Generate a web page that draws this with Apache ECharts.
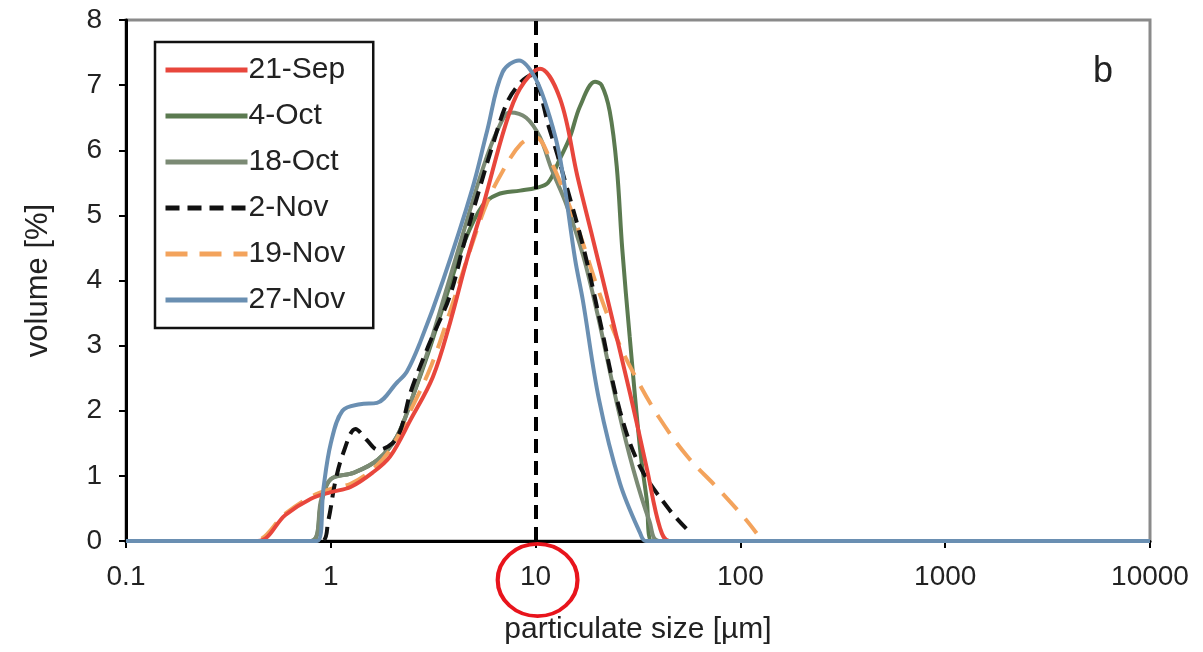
<!DOCTYPE html>
<html>
<head>
<meta charset="utf-8">
<title>particulate size</title>
<script src="https://cdn.jsdelivr.net/npm/echarts@6/dist/echarts.min.js"></script>
<style>
  html, body { margin: 0; padding: 0; background: #fff; }
  #main { width: 1203px; height: 652px; }
</style>
</head>
<body>
<div id="main"></div>
<script>
// particle size distributions (size in µm, volume in %)
var sep21Size = [0.1, 0.44, 0.6, 0.8, 1.0, 1.25, 1.6, 1.95, 2.45, 3.15, 3.82, 4.6, 5.6, 7.1, 8.4, 10.5, 13.2, 16, 19, 22.5, 29, 35, 40.5, 45, 10000];
var sep21Vol  = [0, 0, 0.4, 0.65, 0.75, 0.83, 1.05, 1.3, 1.86, 2.52, 3.35, 4.3, 5.2, 6.37, 6.95, 7.25, 6.78, 5.6, 4.65, 3.7, 2.25, 1.1, 0.2, 0, 0];

var oct4Size = [0.1, 0.8, 0.9, 1.0, 1.3, 1.7, 2.1, 2.5, 3.0, 3.7, 4.5, 5.5, 6.5, 8.4, 10, 11.5, 13.1, 14.7, 16.5, 19.5, 21, 23, 24.9, 26.5, 28.8, 32.4, 34.9, 37, 10000];
var oct4Vol  = [0, 0, 0.6, 0.95, 1.05, 1.25, 1.6, 2.2, 2.9, 3.8, 4.6, 5.15, 5.32, 5.38, 5.42, 5.5, 5.86, 6.2, 6.68, 7.05, 7.0, 6.6, 5.75, 4.48, 3.14, 1.4, 0.63, 0, 0];

var oct18Size = [0.1, 0.8, 0.9, 1.0, 1.3, 1.7, 2.1, 2.5, 3.0, 3.7, 4.5, 5.5, 6.5, 7.5, 9, 10.5, 12, 14, 17, 20, 25, 30, 36, 40, 10000];
var oct18Vol  = [0, 0, 0.65, 0.95, 1.05, 1.25, 1.6, 2.2, 2.95, 3.9, 4.8, 5.7, 6.3, 6.58, 6.5, 6.2, 5.7, 5.2, 4.4, 3.5, 2.1, 1.1, 0.3, 0, 0];

var nov2Size = [0.1, 0.9, 0.97, 1.05, 1.15, 1.32, 1.5, 1.7, 2.0, 2.2, 2.45, 3.0, 3.8, 4.5, 5.2, 6.2, 7.3, 8.5, 9.5, 11.7, 14, 17.2, 20.4, 25.8, 32.4, 45, 56];
var nov2Vol  = [0, 0, 0.3, 0.9, 1.35, 1.72, 1.55, 1.4, 1.5, 1.72, 2.28, 3.0, 3.75, 4.6, 5.3, 6.1, 6.75, 7.05, 7.15, 6.32, 5.5, 4.48, 3.45, 2.0, 1.14, 0.48, 0.15];

var nov19Size = [0.1, 0.42, 0.6, 0.8, 1.0, 1.25, 1.6, 1.95, 2.45, 3.1, 3.8, 4.8, 5.8, 6.85, 8.5, 10, 12, 14, 16.5, 20, 25, 31, 40, 55, 78, 105, 120];
var nov19Vol  = [0, 0, 0.42, 0.68, 0.8, 0.88, 1.1, 1.4, 2.0, 2.7, 3.5, 4.48, 5.2, 5.66, 6.1, 6.2, 5.8, 5.3, 4.7, 3.9, 3.1, 2.5, 1.9, 1.3, 0.8, 0.35, 0.12];

var nov27Size = [0.1, 0.86, 0.92, 1.0, 1.14, 1.39, 1.68, 2.1, 2.35, 2.73, 3.53, 4.9, 5.8, 6.9, 8.3, 10, 11.7, 13.2, 15.6, 17, 20.4, 25.8, 32.4, 34.5, 10000];
var nov27Vol  = [0, 0, 0.8, 1.5, 2.0, 2.1, 2.12, 2.43, 2.6, 3.05, 4.0, 5.4, 6.3, 7.2, 7.38, 7.1, 6.52, 5.86, 4.32, 3.7, 2.17, 0.89, 0.12, 0, 0];

var seriesNames = ['21-Sep', '4-Oct', '18-Oct', '2-Nov', '19-Nov', '27-Nov'];
var xTicks = [0.1, 1, 10, 100, 1000, 10000];
var yTicks = [0, 1, 2, 3, 4, 5, 6, 7, 8];
var cutoffSize = 10; // vertical marker at 10 µm

var FONT = '"Liberation Sans", Arial, sans-serif';

function pairs(xs, ys) {
    var out = [];
    for (var i = 0; i < xs.length; i++) out.push([xs[i], ys[i]]);
    return out;
}

function curve(name, xs, ys, color, type, z) {
    return {
        name: name,
        type: 'line',
        data: pairs(xs, ys),
        smooth: 0.35,
        symbol: 'none',
        clip: true,
        z: z,
        lineStyle: { color: color, width: 4, type: type },
        itemStyle: { color: color }
    };
}

var myChart = echarts.init(document.getElementById('main'), null, { renderer: 'canvas' });

var series = [
    curve(seriesNames[0], sep21Size, sep21Vol, '#e8463c', 'solid', 6),
    curve(seriesNames[1], oct4Size, oct4Vol, '#5b7a50', 'solid', 3),
    curve(seriesNames[2], oct18Size, oct18Vol, '#7b8a74', 'solid', 3),
    curve(seriesNames[3], nov2Size, nov2Vol, '#111111', [14, 8], 5),
    curve(seriesNames[4], nov19Size, nov19Vol, '#f3a35c', [22, 12], 4),
    curve(seriesNames[5], nov27Size, nov27Vol, '#6a8fb2', 'solid', 7)
];
// dashed marker line at 10 µm
series[3].markLine = {
    silent: true,
    symbol: 'none',
    label: { show: false },
    lineStyle: { color: '#000', width: 4, type: [14, 8] },
    data: [{ xAxis: cutoffSize }]
};

var option = {
    backgroundColor: '#fff',
    animation: false,
    grid: {
        left: 126, right: 53, top: 20, bottom: 111,
        show: true, borderColor: '#8a8a8a', borderWidth: 3
    },
    legend: {
        orient: 'vertical',
        left: 155, top: 42,
        data: seriesNames,
        backgroundColor: '#fff',
        borderColor: '#111',
        borderWidth: 2.5,
        borderRadius: 0,
        padding: [13, 28, 13, 8],
        itemWidth: 82,
        itemHeight: 14,
        itemGap: 16,
        itemStyle: { opacity: 0 },
        lineStyle: { width: 5 },
        textStyle: { fontSize: 30, color: '#222', fontFamily: FONT, padding: [0, 0, 0, -4] }
    },
    xAxis: {
        type: 'log',
        logBase: 10,
        min: xTicks[0],
        max: xTicks[xTicks.length - 1],
        name: 'particulate size [µm]',
        nameLocation: 'middle',
        nameGap: 74,
        nameTextStyle: { fontSize: 30, color: '#222', fontFamily: FONT },
        axisLine: { onZero: false, lineStyle: { color: '#000', width: 3 } },
        axisTick: { show: true, length: 7, inside: false, lineStyle: { color: '#000', width: 2 } },
        minorTick: { show: false },
        splitLine: { show: false },
        axisLabel: {
            fontSize: 28, color: '#222', fontFamily: FONT, margin: 22,
            formatter: function (v) { return v < 1 ? v.toFixed(1) : String(Math.round(v)); }
        }
    },
    yAxis: {
        type: 'value',
        min: yTicks[0],
        max: yTicks[yTicks.length - 1],
        interval: 1,
        name: 'volume [%]',
        nameLocation: 'middle',
        nameGap: 72,
        nameRotate: 90,
        nameTextStyle: { fontSize: 31, color: '#222', fontFamily: FONT },
        axisLine: { show: true, lineStyle: { color: '#000', width: 3 } },
        axisTick: { show: true, length: 7, lineStyle: { color: '#000', width: 2 } },
        splitLine: { show: false },
        axisLabel: { fontSize: 28, color: '#222', fontFamily: FONT, margin: 24 }
    },
    series: series
};

myChart.setOption(option);

// panel letter and the red ring round the "10" tick label
var cx = myChart.convertToPixel({ xAxisIndex: 0 }, cutoffSize);
myChart.setOption({
    graphic: [
        {
            type: 'text', left: 1093, top: 54, z: 20,
            style: { text: 'b', fill: '#222', font: '36px ' + FONT }
        },
        {
            type: 'circle', z: 20,
            x: cx + 2, y: 580,
            scaleX: 1.05, scaleY: 0.95,
            shape: { cx: 0, cy: 0, r: 38 },
            style: { fill: 'none', stroke: '#e8141c', lineWidth: 4 }
        }
    ]
});
</script>
</body>
</html>
